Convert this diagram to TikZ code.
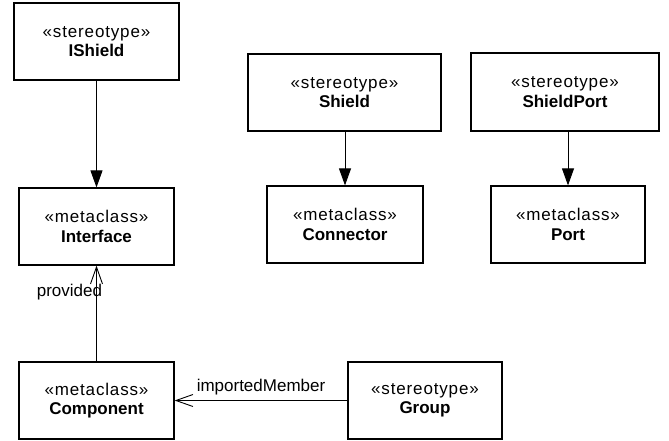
\documentclass[tikz,border=0pt]{standalone}
\usepackage{fontspec}
\setmainfont{Liberation Sans}
\usetikzlibrary{arrows.meta}

\newcommand{\stereo}[1]{{\addfontfeature{LetterSpace=5}\guillemotleft #1\guillemotright}}

\begin{document}
\begin{tikzpicture}[x=1pt, y=-1pt,
    umlbox/.style={draw, line width=1.2pt, align=center, inner sep=0pt,
      font=\fontsize{17}{19.5}\selectfont},
    extends/.style={line width=0.9pt, -{Triangle[length=17pt, width=12pt]}},
    assoc/.style={line width=0.9pt, -{Straight Barb[length=17pt, width=12pt, line width=0.9pt]}},
    lbl/.style={font=\fontsize{17}{20}\selectfont, inner sep=0pt}
    ]
    \useasboundingbox (0,0) rectangle (669,440);
    % stereotypes
    \node[umlbox, minimum width=165pt, minimum height=77pt] (ishield) at (96.5,41.5)
      {\stereo{stereotype}\\\textbf{IShield}};
    \node[umlbox, minimum width=193pt, minimum height=77pt] (shield) at (344.5,92.5)
      {\stereo{stereotype}\\\textbf{Shield}};
    \node[umlbox, minimum width=188pt, minimum height=78pt] (shieldport) at (565,92)
      {\stereo{stereotype}\\\textbf{ShieldPort}};
    \node[umlbox, minimum width=154pt, minimum height=77pt] (group) at (425,400.5)
      {\stereo{stereotype}\\\textbf{Group}};
    % metaclasses
    \node[umlbox, minimum width=155pt, minimum height=77pt] (interface) at (96.5,226.5)
      {\stereo{metaclass}\\\textbf{Interface}};
    \node[umlbox, minimum width=156pt, minimum height=77pt] (connector) at (345,224.5)
      {\stereo{metaclass}\\\textbf{Connector}};
    \node[umlbox, minimum width=154pt, minimum height=77pt] (port) at (568,224.5)
      {\stereo{metaclass}\\\textbf{Port}};
    \node[umlbox, minimum width=155pt, minimum height=77pt] (component) at (96.5,400.5)
      {\stereo{metaclass}\\\textbf{Component}};
    % extensions
    \draw[extends] (ishield) -- (interface);
    \draw[extends] (shield.south -| connector) -- (connector);
    \draw[extends] (shieldport.south -| port) -- (port);
    % associations
    \draw[assoc] (component) -- (interface)
      node[lbl, pos=0.72, left=-6pt] {provided};
    \draw[assoc] (group) -- (component)
      node[lbl, midway, above=5pt] {importedMember};
\end{tikzpicture}
\end{document}
